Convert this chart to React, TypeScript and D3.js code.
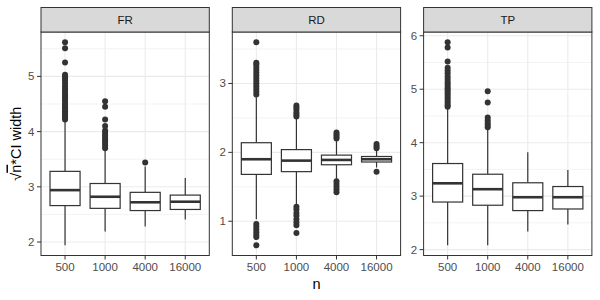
import * as d3 from "d3";

// n values on the x axis of every facet
const sizes = ["500", "1000", "4000", "16000"];
const facets = ["FR", "RD", "TP"];

// box stats per n: [lower whisker, q1, median, q3, upper whisker]
const frBoxes = [
  [1.94, 2.66, 2.94, 3.28, 4.19],
  [2.19, 2.61, 2.82, 3.06, 3.68],
  [2.28, 2.57, 2.72, 2.9, 3.37],
  [2.41, 2.59, 2.73, 2.85, 3.16],
];
const rdBoxes = [
  [1.03, 1.68, 1.9, 2.14, 2.8],
  [1.25, 1.72, 1.88, 2.04, 2.49],
  [1.6, 1.82, 1.89, 1.96, 2.17],
  [1.78, 1.86, 1.9, 1.94, 2.03],
];
const tpBoxes = [
  [2.08, 2.89, 3.24, 3.61, 4.63],
  [2.08, 2.83, 3.13, 3.41, 4.25],
  [2.34, 2.73, 2.98, 3.25, 3.82],
  [2.47, 2.76, 2.98, 3.18, 3.49],
];

// outliers per n
const frOutliers = [
  [4.22, 4.25, 4.28, 4.31, 4.34, 4.37, 4.4, 4.44, 4.47, 4.5, 4.54, 4.58, 4.62, 4.66, 4.7,
    4.74, 4.78, 4.82, 4.87, 4.92, 4.96, 5.0, 5.03, 5.25, 5.51, 5.62],
  [3.7, 3.74, 3.78, 3.82, 3.86, 3.9, 3.94, 3.98, 4.02, 4.1, 4.22, 4.45, 4.55],
  [3.44],
  [],
];
const rdOutliers = [
  [0.65, 0.77, 0.8, 0.84, 0.88, 0.92, 0.96, 2.84, 2.88, 2.92, 2.96, 3.0, 3.04, 3.08, 3.12,
    3.16, 3.2, 3.24, 3.28, 3.3, 3.6],
  [0.83, 0.94, 0.98, 1.03, 1.08, 1.12, 1.17, 1.21, 2.52, 2.55, 2.58, 2.62, 2.65, 2.68],
  [1.42, 1.46, 1.5, 1.54, 1.58, 2.2, 2.23, 2.26, 2.29],
  [1.72, 2.06, 2.09, 2.12],
];
const tpOutliers = [
  [4.67, 4.7, 4.74, 4.78, 4.82, 4.86, 4.9, 4.94, 4.98, 5.02, 5.06, 5.1, 5.14, 5.19, 5.24,
    5.3, 5.35, 5.4, 5.52, 5.78, 5.88],
  [4.29, 4.33, 4.37, 4.42, 4.47, 4.75, 4.96],
  [],
  [],
];

// major y ticks per facet
const frTicks = [2, 3, 4, 5];
const rdTicks = [1, 2, 3];
const tpTicks = [2, 3, 4, 5, 6];

const boxesByFacet = [frBoxes, rdBoxes, tpBoxes];
const outliersByFacet = [frOutliers, rdOutliers, tpOutliers];
const ticksByFacet = [frTicks, rdTicks, tpTicks];

const W = 600;
const H = 300;
const LEFT = 41;
const PANEL_W = 168.3;
const GAP = 23;
const STRIP_TOP = 7.5;
const TOP = 32;
const BOTTOM = 255.5;
const FONT = "'Liberation Sans', Arial, Helvetica, sans-serif";
const INK = "#333333";

function Panel({ index }: { index: number }) {
  const x0 = LEFT + index * (PANEL_W + GAP);
  const boxes = boxesByFacet[index];
  const outliers = outliersByFacet[index];
  const ticks = ticksByFacet[index];

  const all = boxes.flat().concat(outliers.flat());
  const [lo, hi] = d3.extent(all) as [number, number];
  const pad = (hi - lo) * 0.05;
  const y = d3.scaleLinear().domain([lo - pad, hi + pad]).range([BOTTOM, TOP]);

  const x = d3.scalePoint<string>().domain(sizes).range([x0, x0 + PANEL_W]).padding(0.6);
  const bw = x.step() * 0.75;

  const step = ticks[1] - ticks[0];
  const minor = [ticks[0] - step / 2, ...ticks.map((t) => t + step / 2)].filter(
    (t) => t > y.domain()[0] && t < y.domain()[1]
  );

  return (
    <g>
      {/* grid */}
      {minor.map((t) => (
        <line key={"m" + t} x1={x0} x2={x0 + PANEL_W} y1={y(t)} y2={y(t)} stroke="#EBEBEB" strokeWidth={0.6} />
      ))}
      {ticks.map((t) => (
        <line key={"g" + t} x1={x0} x2={x0 + PANEL_W} y1={y(t)} y2={y(t)} stroke="#EBEBEB" strokeWidth={1.1} />
      ))}
      {sizes.map((s) => (
        <line key={"v" + s} x1={x(s)} x2={x(s)} y1={TOP} y2={BOTTOM} stroke="#EBEBEB" strokeWidth={1.1} />
      ))}

      {/* boxes */}
      {sizes.map((s, i) => {
        const [wl, q1, med, q3, wh] = boxes[i];
        const cx = x(s) as number;
        return (
          <g key={"b" + s}>
            <line x1={cx} x2={cx} y1={y(q3)} y2={y(wh)} stroke={INK} strokeWidth={1.2} />
            <line x1={cx} x2={cx} y1={y(q1)} y2={y(wl)} stroke={INK} strokeWidth={1.2} />
            <rect
              x={cx - bw / 2}
              y={y(q3)}
              width={bw}
              height={y(q1) - y(q3)}
              fill="white"
              stroke={INK}
              strokeWidth={1.2}
            />
            <line x1={cx - bw / 2} x2={cx + bw / 2} y1={y(med)} y2={y(med)} stroke={INK} strokeWidth={2.6} />
            {outliers[i].map((v, k) => (
              <circle key={k} cx={cx} cy={y(v)} r={3} fill={INK} />
            ))}
          </g>
        );
      })}

      {/* border */}
      <rect x={x0} y={TOP} width={PANEL_W} height={BOTTOM - TOP} fill="none" stroke={INK} strokeWidth={1} />

      {/* strip */}
      <rect x={x0} y={STRIP_TOP} width={PANEL_W} height={TOP - STRIP_TOP} fill="#D9D9D9" stroke={INK} strokeWidth={1} />
      <text x={x0 + PANEL_W / 2} y={(STRIP_TOP + TOP) / 2 + 4} textAnchor="middle" fontSize={11.5} fill="#1A1A1A">
        {facets[index]}
      </text>

      {/* y axis */}
      {ticks.map((t) => (
        <g key={"yt" + t}>
          <line x1={x0 - 4} x2={x0} y1={y(t)} y2={y(t)} stroke={INK} strokeWidth={1} />
          <text x={x0 - 6.5} y={y(t) + 4} textAnchor="end" fontSize={11.5} fill="#4D4D4D">
            {t}
          </text>
        </g>
      ))}

      {/* x axis */}
      {sizes.map((s) => (
        <g key={"xt" + s}>
          <line x1={x(s)} x2={x(s)} y1={BOTTOM} y2={BOTTOM + 4} stroke={INK} strokeWidth={1} />
          <text x={x(s)} y={BOTTOM + 15} textAnchor="middle" fontSize={11.5} fill="#4D4D4D">
            {s}
          </text>
        </g>
      ))}
    </g>
  );
}

export default function App() {
  const right = LEFT + 3 * PANEL_W + 2 * GAP;
  return (
    <svg
      width={W}
      height={H}
      style={{ position: "absolute", left: 0, top: 0, background: "white" }}
      fontFamily={FONT}
    >
      {facets.map((f, i) => (
        <Panel key={f} index={i} />
      ))}
      <text x={(LEFT + right) / 2} y={289} textAnchor="middle" fontSize={14.5} fill="black">
        n
      </text>
      <text transform={`translate(20.5, ${(TOP + BOTTOM) / 2}) rotate(-90)`} textAnchor="middle" fontSize={14.5} fill="black">
        √<tspan textDecoration="overline">n</tspan>*CI width
      </text>
    </svg>
  );
}
